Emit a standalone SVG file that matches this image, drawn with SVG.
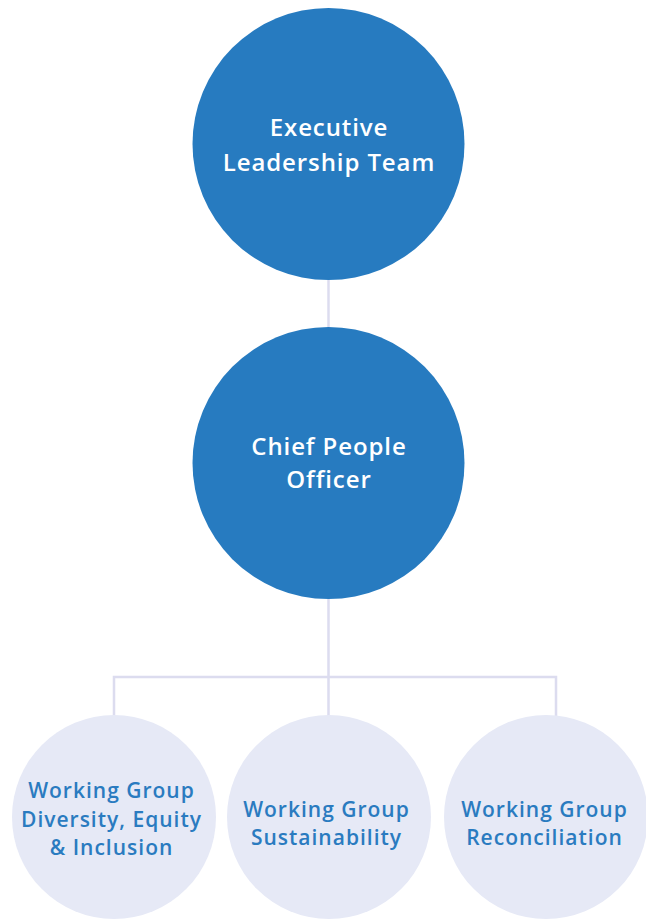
<svg xmlns="http://www.w3.org/2000/svg" width="646" height="919" viewBox="0 0 646 919">
<style>
.dark{fill:#277bc0}
.light{fill:#e6e9f6}
.wt{fill:#ffffff;font-family:"Open Sans","Liberation Sans",sans-serif;font-weight:600;font-size:24px;letter-spacing:0.9px;text-anchor:middle}
.bt{fill:#2a7bc0;font-family:"Open Sans","Liberation Sans",sans-serif;font-weight:600;font-size:21px;letter-spacing:1px;text-anchor:middle}
.ln{stroke:#dcdcef;stroke-width:2.5;fill:none}
</style>
<rect width="646" height="919" fill="#ffffff"/>
<g id="connectors">
<line class="ln" x1="328.5" y1="280" x2="328.5" y2="328"/>
<path class="ln" d="M328.5 599 V716 M114 716 V677 H556 V716"/>
</g>
<g id="executive">
<circle class="dark" cx="328.5" cy="144" r="136"/>
<text class="wt" x="329" y="136">Executive</text>
<text class="wt" x="329" y="171">Leadership Team</text>
</g>
<g id="cpo">
<circle class="dark" cx="328.5" cy="463" r="136"/>
<text class="wt" x="329" y="455">Chief People</text>
<text class="wt" x="329" y="488">Officer</text>
</g>
<g id="dei">
<circle class="light" cx="114" cy="817" r="102"/>
<text class="bt" x="111.5" y="798">Working Group</text>
<text class="bt" x="111.5" y="827">Diversity, Equity</text>
<text class="bt" x="111.5" y="855">&amp; Inclusion</text>
</g>
<g id="sustainability">
<circle class="light" cx="329" cy="817" r="102"/>
<text class="bt" x="326.5" y="817">Working Group</text>
<text class="bt" x="326.5" y="845">Sustainability</text>
</g>
<g id="reconciliation">
<circle class="light" cx="546" cy="817" r="102"/>
<text class="bt" x="544.5" y="817">Working Group</text>
<text class="bt" x="544.5" y="845">Reconciliation</text>
</g>
</svg>
